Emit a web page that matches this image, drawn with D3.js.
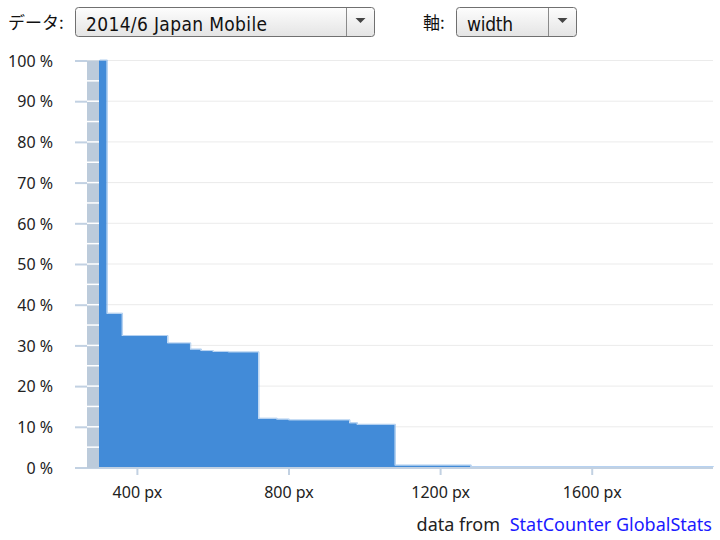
<!DOCTYPE html>
<html><head><meta charset="utf-8">
<script src="https://cdn.jsdelivr.net/npm/d3@7"></script>
<style>
html,body{margin:0;padding:0;background:#fff;}
svg{display:block;}
.tick text{font-family:"Noto Sans","Open Sans",sans-serif;}
</style></head>
<body>
<svg id="c" width="720" height="540"></svg>
<script>
// Data: share of visitors (%) whose screen width is at least the step start
const widths = [300, 320, 360, 480, 540, 568, 600, 640, 720, 768, 800, 960, 980, 1080, 1280, 1920];
const shares = [100, 37.8, 32.3, 30.5, 29.0, 28.6, 28.4, 28.3, 12.0, 11.8, 11.6, 10.9, 10.5, 0.5, 0.1, 0.1];
const xTicks = [400, 800, 1200, 1600];
const yTicks = [0, 10, 20, 30, 40, 50, 60, 70, 80, 90, 100];
const dataLabel = "2014/6 Japan Mobile";
const axisLabel = "width";

const svg = d3.select("#c");
const x = d3.scaleLinear().domain([300, 1920]).range([99, 713]);
const y = d3.scaleLinear().domain([0, 100]).range([467.5, 60.5]);
const pts = widths.map((w, i) => ({w, v: shares[i]}));

// gridlines
svg.append("g").selectAll("line").data(yTicks.slice(1)).join("line")
  .attr("x1", 87).attr("x2", 713)
  .attr("y1", d => y(d)).attr("y2", d => y(d))
  .attr("stroke", "#ebebeb").attr("stroke-width", 1);

// gray ruler bar
svg.append("rect").attr("x", 87).attr("y", y(100)).attr("width", 12).attr("height", y(0) - y(100))
  .attr("fill", "#bccbdb");
const stripes = d3.range(5, 100, 5);
svg.append("g").selectAll("line").data(stripes).join("line")
  .attr("x1", 87).attr("x2", 99)
  .attr("y1", d => y(d)).attr("y2", d => y(d))
  .attr("stroke", "#fff").attr("stroke-width", 1.5);

// area
const area = d3.area().curve(d3.curveStepAfter)
  .x(d => x(d.w)).y0(y(0)).y1(d => y(d.v));
svg.append("path").datum(pts).attr("d", area).attr("fill", "#3c87d7").attr("fill-opacity", 0.97);
const line = d3.line().curve(d3.curveStepAfter).x(d => x(d.w) + 0.8).y(d => y(d.v) - 0.5);
svg.append("path").datum(pts).attr("d", line).attr("fill", "none")
  .attr("stroke", "#9dc3ec").attr("stroke-opacity", 0.8).attr("stroke-width", 1);

// y axis
const yAxis = d3.axisLeft(y).tickValues(yTicks).tickFormat(d => d + " %").tickSize(12).tickPadding(22);
const gy = svg.append("g").attr("transform", "translate(87,0)").call(yAxis);
gy.select(".domain").remove();
gy.selectAll(".tick line").attr("stroke", "#c2d1e2").attr("stroke-width", 2);
gy.selectAll(".tick text").attr("font-size", 16).attr("fill", "#222").attr("dy", "0.36em");

// x axis
const xAxis = d3.axisBottom(x).tickValues(xTicks).tickFormat(d => d + " px").tickSize(7).tickPadding(12);
const gx = svg.append("g").attr("transform", "translate(0,468)").call(xAxis);
gx.select(".domain").remove();
gx.selectAll(".tick line").attr("stroke", "#c2d1e2").attr("stroke-width", 2);
gx.selectAll(".tick text").attr("font-size", 16).attr("fill", "#222");
svg.append("line").attr("x1", 75).attr("x2", 713).attr("y1", 468).attr("y2", 468)
  .attr("stroke", "#c2d1e2").attr("stroke-width", 2);
// redraw ruler over baseline
svg.append("rect").attr("x", 87).attr("y", 466).attr("width", 12).attr("height", 2).attr("fill", "#bccbdb");

// credit
const cred = svg.append("text").attr("x", 712).attr("y", 531).attr("text-anchor", "end")
  .attr("font-family", "Noto Sans, Open Sans, sans-serif").attr("font-size", 18);
cred.append("tspan").attr("fill", "#222").text("data from ");
cred.append("tspan").attr("fill", "#1a1aff").attr("dx", 5).text("StatCounter GlobalStats");

// dropdown controls
const defs = svg.append("defs");
const grad = defs.append("linearGradient").attr("id", "bg").attr("x1", 0).attr("x2", 0).attr("y1", 0).attr("y2", 1);
grad.append("stop").attr("offset", "0%").attr("stop-color", "#fdfdfd");
grad.append("stop").attr("offset", "100%").attr("stop-color", "#e4e4e4");
const ctlFont = "DejaVu Sans Condensed, Liberation Sans Narrow, sans-serif";
function dropdown(label, lx, bx, bw, value, tlen) {
  svg.append("text").attr("x", lx).attr("y", 29).attr("font-family", "Noto Sans CJK JP, sans-serif")
    .attr("font-size", 17).attr("fill", "#111").text(label);
  svg.append("rect").attr("x", bx + 0.5).attr("y", 7.5).attr("width", bw).attr("height", 29).attr("rx", 3)
    .attr("fill", "url(#bg)").attr("stroke", "#707070");
  svg.append("line").attr("x1", bx + bw - 27.5).attr("x2", bx + bw - 27.5).attr("y1", 8).attr("y2", 36)
    .attr("stroke", "#8a8a8a");
  const cx = bx + bw - 13.5;
  svg.append("path").attr("d", `M${cx-5},18 L${cx+5},18 L${cx},23 Z`).attr("fill", "#444");
  svg.append("text").attr("x", bx + 11).attr("y", 31).attr("font-family", ctlFont)
    .attr("font-size", 19).attr("fill", "#111")
    .attr("textLength", tlen).attr("lengthAdjust", "spacing").text(value);
}
dropdown("データ:", 8, 75, 299, dataLabel, 181);
dropdown("軸:", 423, 456, 120, axisLabel, 46);
</script>
</body></html>
